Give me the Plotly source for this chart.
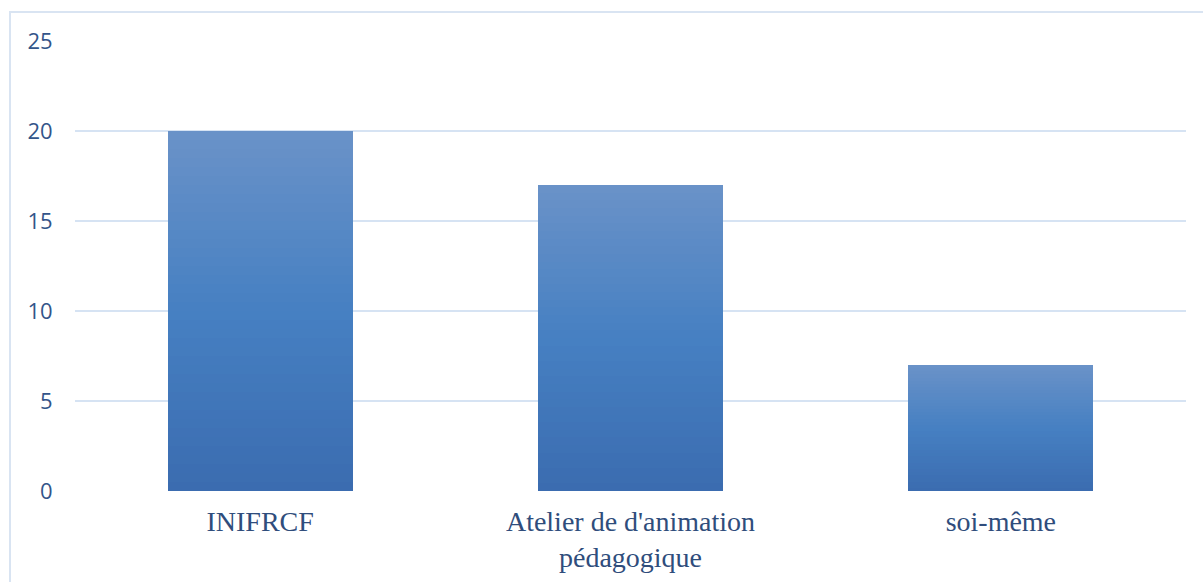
import plotly.graph_objects as go

categories = ["INIFRCF", "Atelier de d'animation<br>pédagogique", "soi-même"]
values = [20, 17, 7]
y_ticks = [0, 5, 10, 15, 20, 25]

# gradient stops (top -> bottom) of each bar
stops = [(0.0, (0x6a, 0x92, 0xc8)), (0.5, (0x46, 0x80, 0xc2)), (1.0, (0x3b, 0x6c, 0xb0))]
N = 40


def color_at(t):
    for (t0, c0), (t1, c1) in zip(stops[:-1], stops[1:]):
        if t0 <= t <= t1:
            f = (t - t0) / (t1 - t0)
            return "rgb(%d,%d,%d)" % tuple(round(a + (b - a) * f) for a, b in zip(c0, c1))
    return "rgb(%d,%d,%d)" % stops[-1][1]


fig = go.Figure()
for k in range(N):
    t = 1 - (k + 0.5) / N  # k=0 is bottom segment
    fig.add_trace(go.Bar(
        x=categories,
        y=[v / N for v in values],
        marker=dict(color=color_at(t), line=dict(width=0)),
        width=0.5,
        showlegend=False,
        hoverinfo="skip",
    ))

W, H = 1203, 582
l, r, t_m, b = 75, 17, 41, 91
pw = W - l - r
ph = H - t_m - b

fig.add_shape(
    type="rect", xref="paper", yref="paper",
    x0=(10 - l) / pw, x1=1.1, y0=-0.4, y1=1 + (t_m - 12) / ph,
    line=dict(color="#d9e4f2", width=2), fillcolor="rgba(0,0,0,0)", layer="below",
)

fig.update_layout(
    barmode="stack",
    bargap=0.5,
    width=W, height=H,
    margin=dict(l=l, r=r, t=t_m, b=b, pad=0, autoexpand=False),
    paper_bgcolor="white",
    plot_bgcolor="white",
    xaxis=dict(
        automargin=False,
        showgrid=False, showline=False, zeroline=False,
        ticks="outside", ticklen=5, tickcolor="rgba(0,0,0,0)",
        tickfont=dict(family="Liberation Serif", size=28, color="#2f4d7c"),
    ),
    yaxis=dict(
        automargin=False,
        range=[0, 25], tickvals=y_ticks,
        showgrid=True, gridcolor="#d6e3f3", gridwidth=2,
        zeroline=False, showline=False,
        ticks="outside", ticklen=17, tickcolor="rgba(0,0,0,0)",
        tickfont=dict(family="Open Sans", size=22, color="#33558a"),
    ),
)

fig.write_html(
    "out.html",
    config={"displayModeBar": False},
    post_script="document.body.style.margin='0';document.body.style.overflow='hidden';",
)
